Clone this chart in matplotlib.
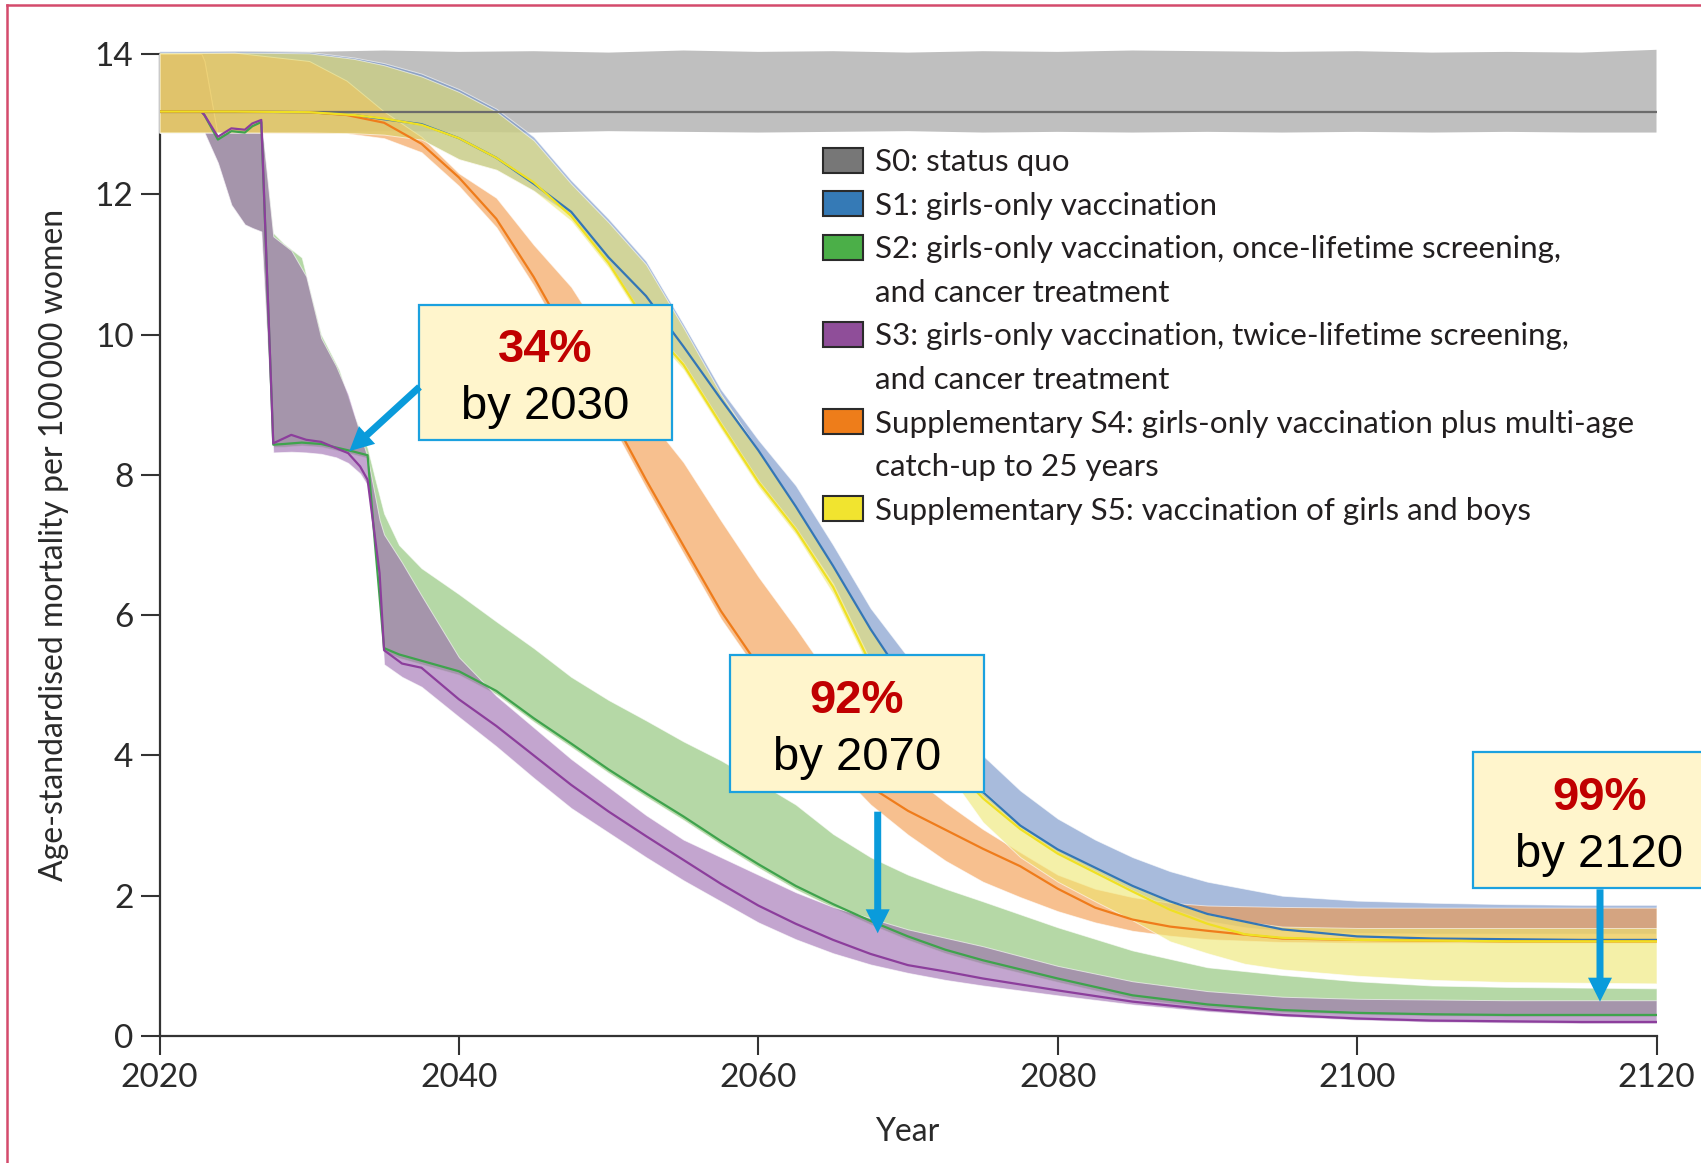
import matplotlib
matplotlib.use("Agg")
import matplotlib.pyplot as plt
from matplotlib.patches import Rectangle, FancyArrow
from matplotlib.lines import Line2D
from matplotlib.transforms import IdentityTransform

plt.rcParams["font.family"] = ["Lato", "DejaVu Sans"]

# ---------------------------------------------------------------- data
s0_years = [2020, 2025, 2030, 2035, 2040, 2045, 2050, 2055, 2060, 2065, 2070,
            2075, 2080, 2085, 2090, 2095, 2100, 2105, 2110, 2115, 2120]
s0_mid = [13.18, 13.18, 13.18, 13.18, 13.18, 13.18, 13.18, 13.18, 13.18, 13.18, 13.18,
          13.18, 13.18, 13.18, 13.18, 13.18, 13.18, 13.18, 13.18, 13.18, 13.18]
s0_lo = [12.88, 12.89, 12.88, 12.90, 12.89, 12.88, 12.90, 12.89, 12.88, 12.89, 12.90,
         12.88, 12.89, 12.88, 12.89, 12.88, 12.89, 12.88, 12.89, 12.88, 12.88]
s0_hi = [14.02, 14.04, 14.03, 14.05, 14.03, 14.04, 14.02, 14.05, 14.03, 14.04, 14.02,
         14.04, 14.03, 14.05, 14.04, 14.03, 14.04, 14.02, 14.03, 14.02, 14.06]

s1_years = [2020, 2025, 2030, 2033, 2035, 2037.5, 2040, 2042.5, 2045, 2047.5, 2050,
            2052.5, 2055, 2057.5, 2060, 2062.5, 2065, 2067.5, 2070, 2072.5, 2075,
            2077.5, 2080, 2082.5, 2085, 2087.5, 2090, 2092.5, 2095, 2100, 2105,
            2110, 2115, 2120]
s1_mid = [13.18, 13.18, 13.17, 13.13, 13.07, 13.00, 12.80, 12.52, 12.15, 11.75, 11.10,
          10.55, 9.83, 9.08, 8.35, 7.55, 6.70, 5.80, 5.00, 4.22, 3.48,
          3.00, 2.66, 2.40, 2.14, 1.92, 1.74, 1.63, 1.52, 1.42, 1.39,
          1.38, 1.37, 1.37]
s1_lo = [12.88, 12.88, 12.88, 12.87, 12.85, 12.78, 12.50, 12.35, 12.05, 11.70, 11.03,
         10.20, 9.60, 8.75, 7.93, 7.25, 6.45, 5.35, 4.58, 3.98, 3.42,
         2.97, 2.62, 2.35, 2.08, 1.82, 1.64, 1.55, 1.50, 1.47, 1.46,
         1.46, 1.46, 1.46]
s1_hi = [14.04, 14.04, 14.03, 13.95, 13.87, 13.72, 13.50, 13.22, 12.82, 12.20, 11.65,
         11.05, 10.15, 9.22, 8.50, 7.85, 7.00, 6.10, 5.40, 4.65, 4.00,
         3.50, 3.10, 2.80, 2.55, 2.35, 2.20, 2.10, 2.00, 1.93, 1.90,
         1.88, 1.87, 1.87]

s2_years = [2020, 2022.8, 2023.0, 2023.9, 2024.8, 2025.7, 2026.2, 2026.8, 2027.6,
            2028.3, 2029.5, 2030.8, 2032.0, 2033.0, 2033.9, 2034.4, 2035.0, 2036.0,
            2037.5, 2040, 2042.5, 2045, 2047.5, 2050, 2052.5, 2055, 2057.5, 2060,
            2062.5, 2065, 2067.5, 2070, 2072.5, 2075, 2080, 2085, 2090, 2095, 2100,
            2105, 2110, 2115, 2120]
s2_mid = [13.18, 13.18, 13.13, 12.78, 12.90, 12.88, 12.97, 13.03, 8.43,
          8.44, 8.46, 8.44, 8.38, 8.33, 8.28, 7.00, 5.53, 5.44,
          5.35, 5.20, 4.92, 4.53, 4.17, 3.80, 3.46, 3.13, 2.78, 2.45,
          2.14, 1.88, 1.64, 1.42, 1.23, 1.08, 0.82, 0.58, 0.45, 0.37, 0.33,
          0.31, 0.30, 0.30, 0.30]
s2_lo = [12.88, 12.88, 12.88, 12.45, 11.85, 11.57, 11.52, 11.47, 8.40,
         8.40, 8.42, 8.40, 8.34, 8.29, 8.24, 6.90, 5.48, 5.39,
         5.30, 5.15, 4.87, 4.48, 4.12, 3.75, 3.41, 3.08, 2.73, 2.40,
         2.09, 1.83, 1.59, 1.37, 1.18, 1.03, 0.77, 0.53, 0.41, 0.34, 0.31,
         0.29, 0.28, 0.28, 0.28]
s2_hi = [14.00, 14.00, 13.90, 12.82, 12.94, 12.92, 13.01, 13.06, 11.45,
         11.30, 11.10, 10.00, 9.50, 8.85, 8.38, 7.95, 7.45, 7.00,
         6.67, 6.30, 5.91, 5.53, 5.12, 4.79, 4.50, 4.20, 3.93, 3.62,
         3.30, 2.88, 2.55, 2.30, 2.10, 1.92, 1.55, 1.22, 0.98, 0.87, 0.78,
         0.72, 0.70, 0.69, 0.68]

s3_years = [2020, 2022.8, 2023.0, 2023.9, 2024.8, 2025.7, 2026.2, 2026.8, 2027.6,
            2028.8, 2029.8, 2030.8, 2031.8, 2032.6, 2033.4, 2033.9, 2034.7, 2035.0,
            2036.2, 2037.5, 2040, 2042.5, 2045, 2047.5, 2050, 2052.5, 2055, 2057.5,
            2060, 2062.5, 2065, 2067.5, 2070, 2072.5, 2075, 2080, 2085, 2090, 2095,
            2100, 2105, 2110, 2115, 2120]
s3_mid = [13.18, 13.18, 13.13, 12.82, 12.94, 12.92, 13.01, 13.06, 8.45,
          8.57, 8.50, 8.47, 8.38, 8.31, 8.12, 7.93, 6.60, 5.50,
          5.31, 5.25, 4.80, 4.42, 4.00, 3.58, 3.20, 2.85, 2.51, 2.17,
          1.86, 1.60, 1.37, 1.17, 1.01, 0.92, 0.82, 0.65, 0.49, 0.38, 0.30,
          0.25, 0.22, 0.21, 0.20, 0.20]
s3_lo = [12.88, 12.88, 12.88, 12.45, 11.85, 11.57, 11.52, 11.47, 8.32,
         8.33, 8.32, 8.30, 8.25, 8.17, 8.02, 7.85, 6.40, 5.30,
         5.12, 4.98, 4.55, 4.13, 3.68, 3.25, 2.90, 2.55, 2.22, 1.92,
         1.62, 1.38, 1.18, 1.02, 0.90, 0.80, 0.72, 0.58, 0.45, 0.35, 0.28,
         0.23, 0.20, 0.19, 0.18, 0.18]
s3_hi = [14.00, 14.00, 13.90, 12.82, 12.94, 12.92, 13.01, 13.06, 11.40,
         11.20, 10.83, 9.95, 9.55, 9.15, 8.59, 8.25, 7.36, 7.15,
         6.75, 6.28, 5.40, 4.85, 4.40, 3.95, 3.55, 3.15, 2.80, 2.55,
         2.30, 2.05, 1.84, 1.68, 1.52, 1.40, 1.28, 1.00, 0.78, 0.64, 0.56,
         0.53, 0.52, 0.51, 0.51, 0.51]

s4_years = [2020, 2025, 2030, 2032.5, 2035, 2037.5, 2040, 2042.5, 2045, 2047.5, 2050,
            2052.5, 2055, 2057.5, 2060, 2062.5, 2065, 2067.5, 2070, 2072.5, 2075,
            2077.5, 2080, 2082.5, 2085, 2087.5, 2090, 2095, 2100, 2105, 2110, 2115, 2120]
s4_mid = [13.18, 13.18, 13.17, 13.13, 13.02, 12.72, 12.24, 11.65, 10.82, 9.87, 8.92,
          7.93, 6.99, 6.06, 5.28, 4.60, 4.05, 3.55, 3.21, 2.94, 2.67,
          2.42, 2.10, 1.83, 1.66, 1.56, 1.50, 1.39, 1.37, 1.36, 1.35, 1.35, 1.35]
s4_lo = [12.88, 12.88, 12.87, 12.87, 12.80, 12.60, 12.12, 11.53, 10.70, 9.75, 8.80,
         7.82, 6.88, 5.95, 5.18, 4.45, 3.85, 3.30, 2.87, 2.50, 2.20,
         1.98, 1.78, 1.62, 1.50, 1.43, 1.38, 1.34, 1.33, 1.33, 1.33, 1.33, 1.33]
s4_hi = [14.01, 14.02, 13.90, 13.62, 13.18, 12.82, 12.30, 11.95, 11.28, 10.68, 9.85,
         8.85, 8.18, 7.35, 6.55, 5.82, 5.05, 4.30, 3.75, 3.33, 2.95,
         2.62, 2.30, 2.10, 1.98, 1.90, 1.86, 1.84, 1.83, 1.83, 1.83, 1.83, 1.83]

s5_years = [2020, 2025, 2030, 2033, 2035, 2037.5, 2040, 2042.5, 2045, 2047.5, 2050,
            2052.5, 2055, 2057.5, 2060, 2062.5, 2065, 2067.5, 2070, 2072.5, 2075,
            2077.5, 2080, 2082.5, 2085, 2087.5, 2090, 2092.5, 2095, 2100, 2105,
            2110, 2115, 2120]
s5_mid = [13.18, 13.18, 13.17, 13.13, 13.08, 12.99, 12.80, 12.52, 12.17, 11.69, 11.02,
          10.18, 9.57, 8.72, 7.90, 7.22, 6.40, 5.30, 4.55, 3.95, 3.39,
          2.95, 2.60, 2.33, 2.06, 1.80, 1.60, 1.45, 1.40, 1.37, 1.36,
          1.35, 1.35, 1.35]
s5_lo = [12.88, 12.88, 12.88, 12.87, 12.85, 12.78, 12.50, 12.35, 12.05, 11.62, 10.95,
         10.10, 9.50, 8.65, 7.83, 7.15, 6.30, 5.20, 4.45, 3.80, 3.05,
         2.55, 2.20, 1.92, 1.65, 1.35, 1.18, 1.03, 0.95, 0.86, 0.80,
         0.77, 0.76, 0.75]
s5_hi = [14.02, 14.02, 14.01, 13.93, 13.84, 13.68, 13.46, 13.18, 12.77, 12.15, 11.60,
         11.00, 10.10, 9.15, 8.35, 7.55, 6.70, 5.80, 5.00, 4.22, 3.50,
         3.00, 2.66, 2.40, 2.14, 1.92, 1.74, 1.63, 1.56, 1.54, 1.54,
         1.54, 1.54, 1.54]

x_ticks = [2020, 2040, 2060, 2080, 2100, 2120]
y_ticks = [0, 2, 4, 6, 8, 10, 12, 14]

legend_labels = [
    "S0: status quo",
    "S1: girls-only vaccination",
    "S2: girls-only vaccination, once-lifetime screening,\nand cancer treatment",
    "S3: girls-only vaccination, twice-lifetime screening,\nand cancer treatment",
    "Supplementary S4: girls-only vaccination plus multi-age\ncatch-up to 25 years",
    "Supplementary S5: vaccination of girls and boys",
]
legend_colors = ["#777777", "#357AB6", "#4BAF48", "#8F4E99", "#EE7D1A", "#F1E42F"]

callout_pct = ["34%", "92%", "99%"]
callout_year = ["by 2030", "by 2070", "by 2120"]

# ---------------------------------------------------------------- figure
W, H = 1701, 1163
fig = plt.figure(figsize=(W / 100, H / 100), dpi=100)
fig.patch.set_facecolor("white")
ax = fig.add_axes([159.5 / W, 1 - 1036 / H, 1497 / W, 982 / H])

BAND_ALPHA = 0.6
band_colors = ["#6E8FC6", "#84BE6B", "#9B69AF", "#F39644", "#EEE66E"]
line_colors = ["#6B6B6B", "#3476B5", "#3FA34D", "#8C3E9C", "#EF7C1B", "#EFE023"]

ax.fill_between(s0_years, s0_lo, s0_hi, facecolor="#BFBFBF", linewidth=0,
                zorder=1, clip_on=False)
bands = [(s1_years, s1_lo, s1_hi), (s2_years, s2_lo, s2_hi), (s3_years, s3_lo, s3_hi),
         (s4_years, s4_lo, s4_hi), (s5_years, s5_lo, s5_hi)]
for i, ((xs, lo, hi), c) in enumerate(zip(bands, band_colors)):
    ax.fill_between(xs, lo, hi, facecolor=c, alpha=BAND_ALPHA, edgecolor="white",
                    linewidth=0.7, zorder=2 + i, clip_on=False)

lines = [(s0_years, s0_mid), (s1_years, s1_mid), (s2_years, s2_mid),
         (s3_years, s3_mid), (s4_years, s4_mid), (s5_years, s5_mid)]
for i, ((xs, ys), c) in enumerate(zip(lines, line_colors)):
    ax.plot(xs, ys, color=c, lw=1.6, zorder=10 + i, solid_joinstyle="round")

ax.set_xlim(2020, 2120)
ax.set_ylim(0, 14)
ax.set_xticks(x_ticks)
ax.set_yticks(y_ticks)
for side in ("top", "right"):
    ax.spines[side].set_visible(False)
for side in ("left", "bottom"):
    ax.spines[side].set_color("#333333")
    ax.spines[side].set_linewidth(1.6)
ax.tick_params(axis="both", direction="out", length=13.7, width=1.5,
               color="#333333", labelsize=24, labelcolor="#2a2a2a")
ax.tick_params(axis="x", pad=6)
ax.tick_params(axis="y", pad=5)
ax.set_facecolor("none")


def fx(px):
    return px / W


def fy(py):
    return 1 - py / H


fig.text(fx(54), fy(545), "Age-standardised mortality per 100\u2009000 women",
         rotation=90, ha="center", va="center", fontsize=23, color="#2a2a2a")
fig.text(fx(907), fy(1141), "Year", ha="center", va="baseline",
         fontsize=23, color="#2a2a2a")

# legend drawn by hand so the swatch sits on the first line of each entry
row = 0
for label, col in zip(legend_labels, legend_colors):
    yc = 160 + row * 43.6
    fig.add_artist(Rectangle((fx(823), fy(yc + 12.5)), 40 / W, 25 / H,
                             transform=fig.transFigure, facecolor=col,
                             edgecolor="#2b2b2b", linewidth=1.5, zorder=4))
    for part in label.split("\n"):
        yc = 160 + row * 43.6
        fig.text(fx(875), fy(yc + 11), part, ha="left", va="baseline",
                 fontsize=22.6, color="#231F20")
        row += 1

# call-out boxes and arrows, positioned in output pixels
pix = IdentityTransform()
boxes = [(418.7, 304.8, 671.5, 440.4), (730.0, 655.0, 984.0, 792.0),
         (1473.0, 752.0, 1730.0, 888.0)]
text_pos = [(545, 362, 419), (857, 713, 770), (1599.5, 810, 867)]
for (x0, y0, x1, y1), (tx, b1, b2), pct, yr in zip(boxes, text_pos, callout_pct,
                                                    callout_year):
    fig.add_artist(Rectangle((x0, H - y1), x1 - x0, y1 - y0, transform=pix,
                             facecolor="#FFF5CC", edgecolor="#1BA1DF",
                             linewidth=1.6, zorder=6))
    fig.text(fx(tx), fy(b1), pct, ha="center", va="baseline", fontsize=34,
             fontweight="bold", color="#C00000", family="Liberation Sans", zorder=7)
    fig.text(fx(tx), fy(b2), yr, ha="center", va="baseline", fontsize=34,
             color="black", family="Liberation Sans", zorder=7)

arrows = [((419.5, 387.0), (349.3, 451.2)), ((877.7, 811.7), (877.7, 933.3)),
          ((1600.0, 889.3), (1600.0, 1001.7))]
for (xa, ya), (xb, yb) in arrows:
    fig.add_artist(FancyArrow(xa, H - ya, xb - xa, -(yb - ya), width=7,
                              head_width=24, head_length=24,
                              length_includes_head=True, transform=pix,
                              facecolor="#0A9BDB", edgecolor="none", zorder=8))

# frame around the panel
fig.add_artist(Line2D([7, W], [H - 5, H - 5], transform=pix, color="#D44A6C",
                      linewidth=1.8, zorder=9))
fig.add_artist(Line2D([7, 7], [0, H - 5], transform=pix, color="#D44A6C",
                      linewidth=1.8, zorder=9))

fig.savefig("out.png", dpi=100)
